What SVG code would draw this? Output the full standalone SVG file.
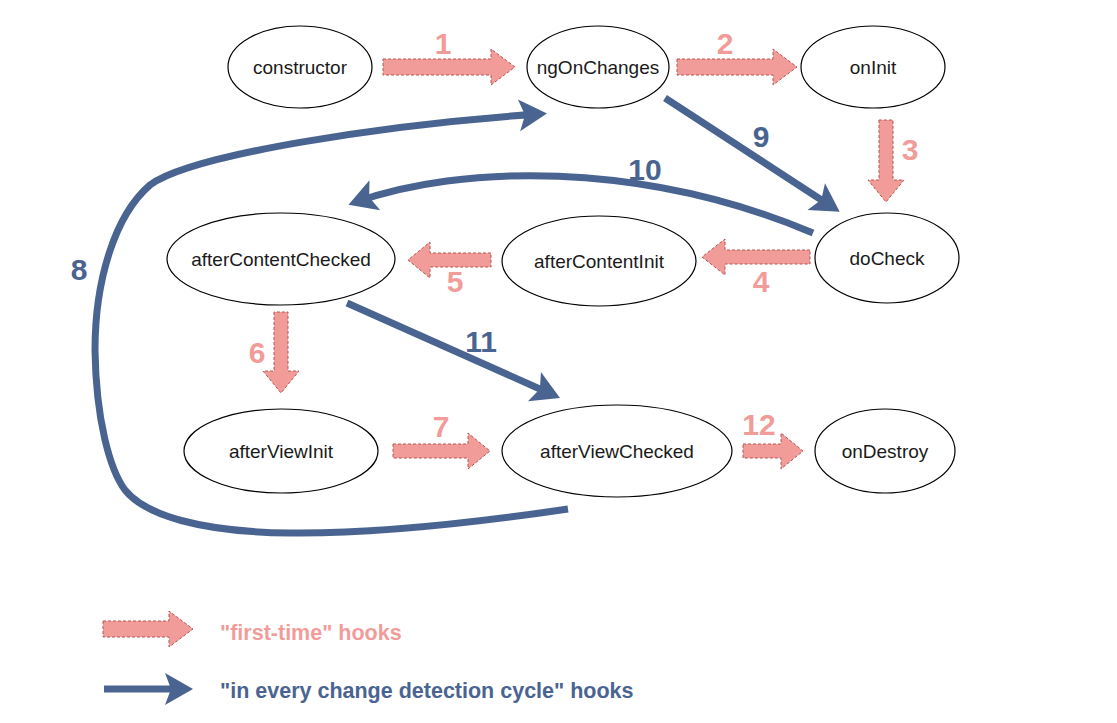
<svg xmlns="http://www.w3.org/2000/svg" width="1117" height="723" viewBox="0 0 1117 723">
<style>
.node ellipse{fill:#fff;stroke:#000;stroke-width:1.2}
.node text{font-family:"Liberation Sans",Arial,sans-serif;font-size:19px;fill:#1a1a1a;text-anchor:middle;dominant-baseline:central}
.first{fill:#f19c99;stroke:#b85450;stroke-width:1;stroke-dasharray:3 2}
.cyc{fill:none;stroke:#4a6491;stroke-width:7;marker-end:url(#bh)}
.np{font-family:"Liberation Sans",Arial,sans-serif;font-weight:bold;font-size:30px;fill:#f19c99;text-anchor:middle}
.nb{font-family:"Liberation Sans",Arial,sans-serif;font-weight:bold;font-size:30px;fill:#4a6491;text-anchor:middle}
.leg{font-family:"Liberation Sans",Arial,sans-serif;font-weight:bold;font-size:21.5px}
</style>
<defs>
<marker id="bh" markerUnits="userSpaceOnUse" markerWidth="30" markerHeight="34" refX="20" refY="16" orient="auto" overflow="visible">
<path d="M0,0 L28,16 L0,32 L6,16 Z" fill="#4a6491"/>
</marker>
</defs>
<rect width="1117" height="723" fill="#fff"/>

<g id="connectors">
<!-- first-time block arrows -->
<polygon id="a1" class="first" points="383,59 491,59 491,49 515,67 491,85 491,75 383,75"/>
<polygon id="a2" class="first" points="677,59 773,59 773,49 797,67 773,85 773,75 677,75"/>
<polygon id="a3" class="first" points="879,120 879,180 868,180 886,202 904,180 893,180 893,120"/>
<polygon id="a4" class="first" points="810,250 725,250 725,239 702,257 725,275 725,264 810,264"/>
<polygon id="a5" class="first" points="491,253 430,253 430,242 408,260 430,278 430,267 491,267"/>
<polygon id="a6" class="first" points="274,312 274,371 263,371 281,393 299,371 288,371 288,312"/>
<polygon id="a7" class="first" points="393,444 468,444 468,433 490,451 468,469 468,458 393,458"/>
<polygon id="a12" class="first" points="743,444 781,444 781,433 803,451 781,469 781,458 743,458"/>
<!-- change detection cycle arrows -->
<path id="c9" class="cyc" d="M665,98 L833,207.5"/>
<path id="c10" class="cyc" d="M813,233 C640,160 460,165 356,202"/>
<path id="c11" class="cyc" d="M347,303 L552.7,394.7"/>
<path id="c8" class="cyc" d="M568,509 C480,522 380,534 290,533 C200,532 145,515 125,490 C110,470 96,420 95,350 C95,280 115,215 150,185 C190,155 380,125 539,114"/>
<!-- labels -->
<text class="np" x="443" y="54">1</text>
<text class="np" x="725" y="54">2</text>
<text class="np" x="910" y="160">3</text>
<text class="np" x="761" y="292">4</text>
<text class="np" x="455" y="292">5</text>
<text class="np" x="257" y="363">6</text>
<text class="np" x="441" y="437">7</text>
<text class="np" x="759" y="435">12</text>
<text class="nb" x="761" y="147">9</text>
<text class="nb" x="645" y="180">10</text>
<text class="nb" x="481" y="352">11</text>
<text class="nb" x="79" y="280">8</text>
</g>

<g id="constructor" class="node"><ellipse cx="300" cy="67" rx="72" ry="41"/><text x="300" y="67">constructor</text></g>
<g id="ngOnChanges" class="node"><ellipse cx="598" cy="67" rx="71" ry="41"/><text x="598" y="67">ngOnChanges</text></g>
<g id="onInit" class="node"><ellipse cx="873" cy="67" rx="72" ry="41"/><text x="873" y="67">onInit</text></g>
<g id="afterContentChecked" class="node"><ellipse cx="281" cy="259" rx="114" ry="46"/><text x="281" y="259">afterContentChecked</text></g>
<g id="afterContentInit" class="node"><ellipse cx="599" cy="261" rx="97" ry="45"/><text x="599" y="261">afterContentInit</text></g>
<g id="doCheck" class="node"><ellipse cx="887" cy="258" rx="72" ry="45"/><text x="887" y="258">doCheck</text></g>
<g id="afterViewInit" class="node"><ellipse cx="281" cy="451" rx="97" ry="42"/><text x="281" y="451">afterViewInit</text></g>
<g id="afterViewChecked" class="node"><ellipse cx="617" cy="451" rx="115" ry="46"/><text x="617" y="451">afterViewChecked</text></g>
<g id="onDestroy" class="node"><ellipse cx="885" cy="451" rx="70" ry="42"/><text x="885" y="451">onDestroy</text></g>

<g id="legend">
<polygon class="first" points="103,621 169,621 169,611 193,629 169,647 169,637 103,637"/>
<path class="cyc" d="M104,689 L185,689"/>
<text class="leg" x="220" y="640" fill="#f19c99">"first-time" hooks</text>
<text class="leg" x="220" y="698" fill="#4a6491">"in every change detection cycle" hooks</text>
</g>
</svg>
